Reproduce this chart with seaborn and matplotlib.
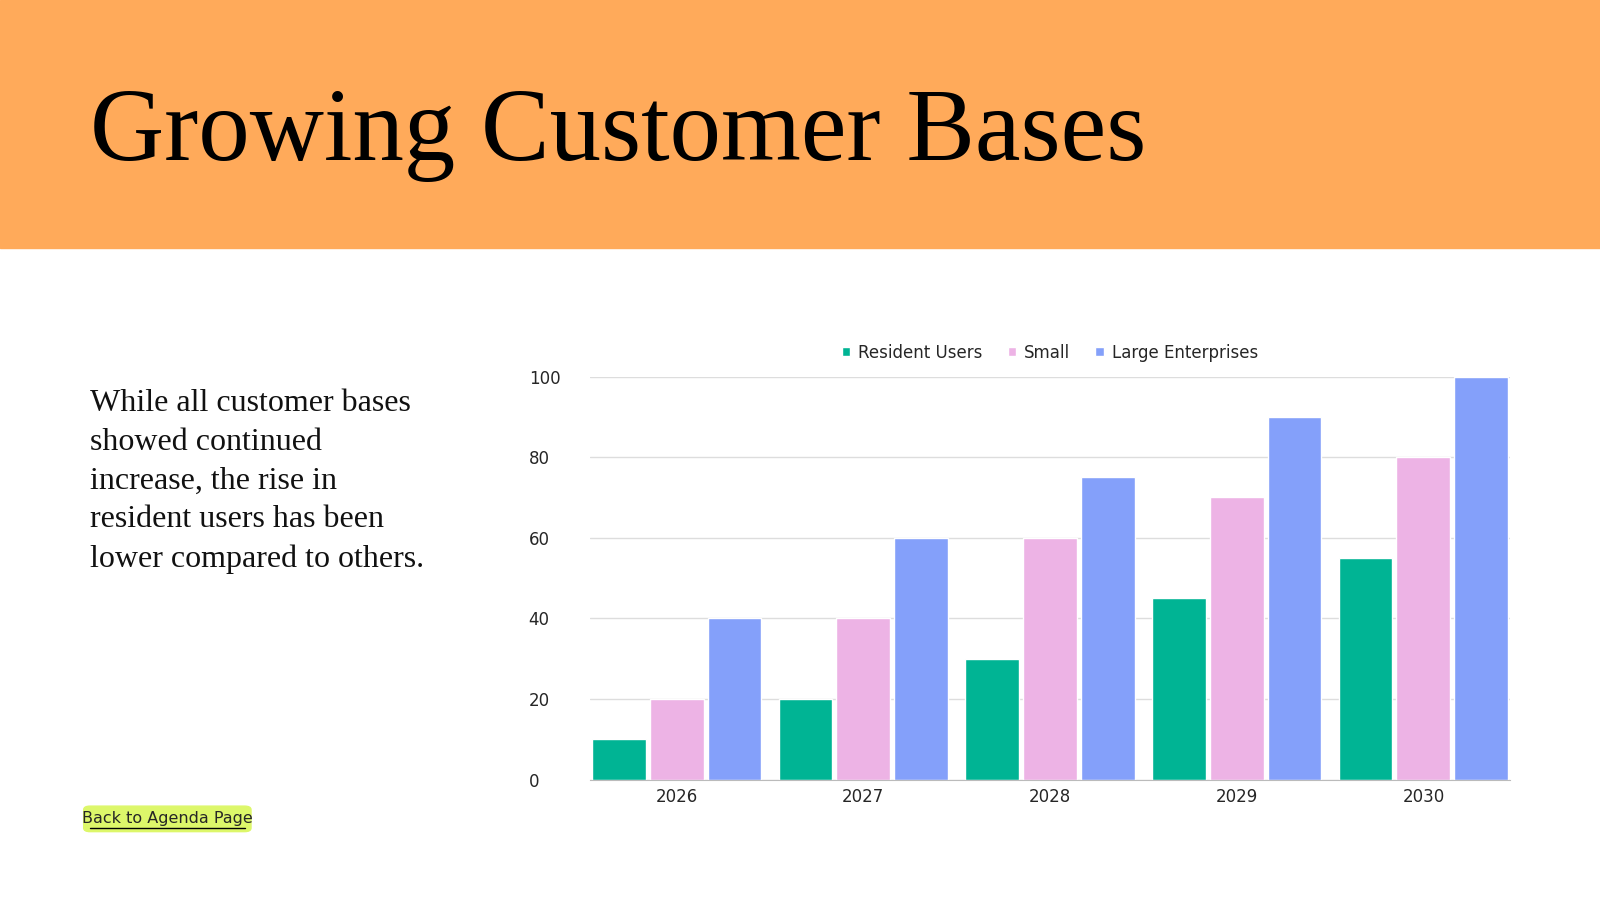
import matplotlib
matplotlib.use("Agg")
import matplotlib.pyplot as plt
import seaborn as sns
import pandas as pd
from matplotlib.patches import Rectangle, FancyBboxPatch
from matplotlib.lines import Line2D

years = ["2026", "2027", "2028", "2029", "2030"]
series = ["Resident Users", "Small", "Large Enterprises"]
resident = [10, 20, 30, 45, 55]
small = [20, 40, 60, 70, 80]
large = [40, 60, 75, 90, 100]
colors = ["#00B494", "#EDB3E5", "#84A0FA"]

rows = []
for name, vals in zip(series, [resident, small, large]):
    for y, v in zip(years, vals):
        rows.append({"Year": y, "Series": name, "Value": v})
df = pd.DataFrame(rows)

W, H = 1568, 882
def fx(x): return x / W
def fy(y): return 1 - y / H

sns.set_style("white")
plt.rcParams['font.family'] = ['DejaVu Sans']
fig = plt.figure(figsize=(16, 9), dpi=100)
fig.patches.append(Rectangle((0, fy(243)), 1, 243 / H, transform=fig.transFigure,
                             color="#FFAA5A", zorder=0))
fig.text(fx(88), fy(157), "Growing Customer Bases", family="Liberation Serif",
         fontsize=74, color="black", va="baseline")
fig.text(fx(88), fy(381),
         "While all customer bases\nshowed continued\nincrease, the rise in\nresident users has been\nlower compared to others.",
         family="Liberation Serif", fontsize=23, va="top", linespacing=1.45, color="#111111")
fig.patches.append(FancyBboxPatch((fx(82), fy(815)), 164 / W, 25 / H,
                                  boxstyle="round,pad=0,rounding_size=0.004",
                                  transform=fig.transFigure, color="#DDF76A"))
fig.text(fx(164), fy(802), "Back to Agenda Page", fontsize=11.5,
         ha="center", va="center")
fig.lines.append(Line2D([fx(88), fx(240)], [fy(811)] * 2,
                        transform=fig.transFigure, color="black", lw=1))

ax = fig.add_axes([fx(578), fy(764), 902 / W, 395 / H])
sns.barplot(data=df, x="Year", y="Value", hue="Series", palette=colors,
            saturation=1, width=0.93, gap=0.07, ax=ax, legend=True)
ax.set_xlim(-0.465, 4.465)
ax.set_ylim(0, 100)
ax.set_yticks([0, 20, 40, 60, 80, 100])
ax.yaxis.grid(True, color="#DDDDDD", lw=1)
ax.set_axisbelow(True)
for s in ["top", "right", "left"]:
    ax.spines[s].set_visible(False)
ax.spines["bottom"].set_color("#BBBBBB")
ax.set_xlabel("")
ax.set_ylabel("")
ax.tick_params(axis="both", length=0, labelsize=12, pad=6)
ax.tick_params(axis="y", pad=44)
for lab in ax.get_yticklabels():
    lab.set_horizontalalignment("left")
ax.legend(loc="lower center", bbox_to_anchor=(0.5, 1.0), ncol=3, frameon=False,
          fontsize=12, handlelength=0.5, handleheight=0.5, handletextpad=0.5,
          columnspacing=1.5)
fig.savefig("out.png", dpi=100)
